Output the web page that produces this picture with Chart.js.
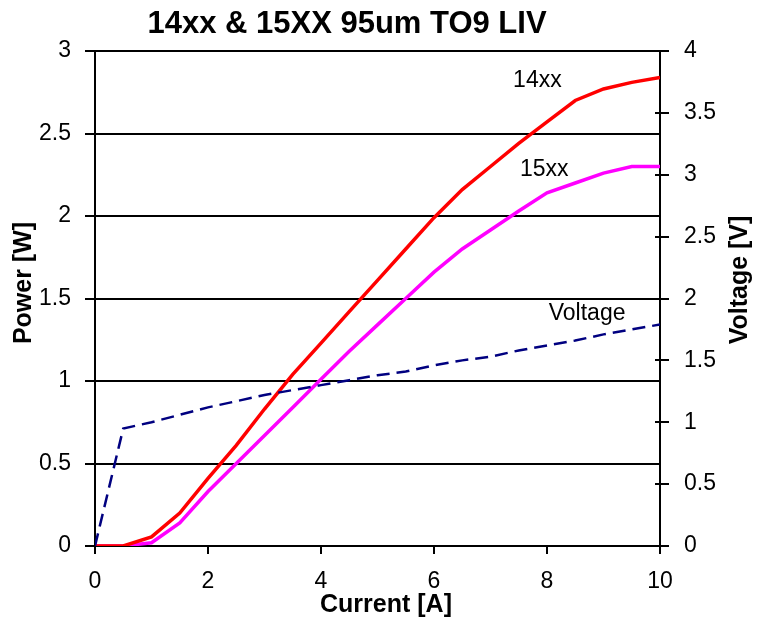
<!DOCTYPE html>
<html>
<head>
<meta charset="utf-8">
<script src="https://cdn.jsdelivr.net/npm/chart.js@4/dist/chart.umd.min.js"></script>
<style>
  html, body { margin: 0; padding: 0; background: #fff; }
  #wrap { width: 766px; height: 620px; position: relative; }
</style>
</head>
<body>
<div id="wrap"><canvas id="c"></canvas></div>
<script>
const current   = [0, 0.5, 1, 1.5, 2, 2.5, 3, 3.5, 4, 4.5, 5, 5.5, 6, 6.5, 7, 7.5, 8, 8.5, 9, 9.5, 10];
const power14xx = [0, 0, 0.055, 0.20, 0.41, 0.61, 0.83, 1.04, 1.23, 1.42, 1.61, 1.80, 1.99, 2.16, 2.30, 2.44, 2.57, 2.70, 2.77, 2.81, 2.84];
const power15xx = [0, 0, 0.02, 0.14, 0.33, 0.50, 0.67, 0.84, 1.01, 1.18, 1.34, 1.50, 1.66, 1.80, 1.915, 2.03, 2.14, 2.20, 2.26, 2.30, 2.30];
const voltage   = [0, 0.95, 1.00, 1.06, 1.12, 1.17, 1.22, 1.26, 1.30, 1.34, 1.38, 1.41, 1.46, 1.50, 1.53, 1.58, 1.62, 1.66, 1.71, 1.75, 1.79];

const chartTitle = '14xx & 15XX 95um TO9 LIV';
const xTitle = 'Current [A]';
const yLeftTitle = 'Power [W]';
const yRightTitle = 'Voltage [V]';
const seriesLabels = ['14xx', '15xx', 'Voltage'];
// label anchor positions in data units (x, left-axis value)
const labelAnchors = [[7.83, 2.82], [7.95, 2.28], [8.71, 1.41]];

const FONT = '"Liberation Sans", Arial, Helvetica, sans-serif';
const toXY = (xs, ys) => xs.map((x, i) => ({ x: x, y: ys[i] }));
const plainNum = v => String(+v.toFixed(2));

const textPlugin = {
  id: 'texts',
  afterDraw(chart) {
    const ctx = chart.ctx;
    const xs = chart.scales.x, yl = chart.scales.y, yr = chart.scales.y1;
    const ca = chart.chartArea;
    ctx.save();
    // inner half of right-axis ticks (cross ticks)
    ctx.strokeStyle = '#000';
    ctx.lineWidth = 2;
    yr.ticks.forEach(t => {
      const py = Math.round(yr.getPixelForValue(t.value));
      ctx.beginPath();
      ctx.moveTo(ca.right - 5, py);
      ctx.lineTo(ca.right, py);
      ctx.stroke();
    });
    ctx.fillStyle = '#000';
    // title
    ctx.font = 'bold 31px ' + FONT;
    ctx.textAlign = 'center';
    ctx.textBaseline = 'middle';
    ctx.fillText(chartTitle, 347, 24);
    // x title
    ctx.font = 'bold 25px ' + FONT;
    ctx.fillText(xTitle, 386, 605);
    // left y title
    ctx.save();
    ctx.translate(24, 283);
    ctx.rotate(-Math.PI / 2);
    ctx.fillText(yLeftTitle, 0, 0);
    ctx.restore();
    // right y title
    ctx.save();
    ctx.translate(740, 280);
    ctx.rotate(-Math.PI / 2);
    ctx.fillText(yRightTitle, 0, 0);
    ctx.restore();
    // series labels
    ctx.font = '23px ' + FONT;
    seriesLabels.forEach((s, i) => {
      const a = labelAnchors[i];
      ctx.fillText(s, xs.getPixelForValue(a[0]), yl.getPixelForValue(a[1]));
    });
    ctx.restore();
  }
};

new Chart(document.getElementById('c'), {
  type: 'line',
  data: {
    datasets: [
      { label: seriesLabels[2], data: toXY(current, voltage), yAxisID: 'y1',
        borderColor: '#000080', borderWidth: 2.5, borderDash: [13, 7], pointRadius: 0, tension: 0, fill: false },
      { label: seriesLabels[0], data: toXY(current, power14xx), yAxisID: 'y',
        borderColor: '#ff0000', borderWidth: 3.5, pointRadius: 0, tension: 0, fill: false },
      { label: seriesLabels[1], data: toXY(current, power15xx), yAxisID: 'y',
        borderColor: '#ff00ff', borderWidth: 3.5, pointRadius: 0, tension: 0, fill: false }
    ]
  },
  options: {
    responsive: true,
    maintainAspectRatio: false,
    animation: false,
    layout: { padding: { top: 51, left: 0, right: 0, bottom: 0 } },
    plugins: { legend: { display: false }, title: { display: false }, tooltip: { enabled: false } },
    scales: {
      x: {
        type: 'linear', min: 0, max: 10,
        ticks: { stepSize: 2, color: '#000', font: { family: FONT, size: 23 }, padding: 14, maxRotation: 0, callback: plainNum },
        grid: { drawOnChartArea: false, drawTicks: true, tickLength: 8, color: '#000', lineWidth: 2 },
        border: { display: true, color: '#000', width: 2 },
        afterFit: s => { s.height = 74; }
      },
      y: {
        position: 'left', min: 0, max: 3,
        ticks: { stepSize: 0.5, color: '#000', font: { family: FONT, size: 23 }, padding: 14, callback: plainNum },
        grid: { drawOnChartArea: true, drawTicks: true, tickLength: 10, color: '#000', lineWidth: 2 },
        border: { display: true, color: '#000', width: 2 },
        afterFit: s => { s.width = 95; }
      },
      y1: {
        position: 'right', min: 0, max: 4,
        ticks: { stepSize: 0.5, color: '#000', font: { family: FONT, size: 23 }, padding: 15, callback: plainNum },
        grid: { drawOnChartArea: false, drawTicks: true, tickLength: 9, color: '#000', lineWidth: 2 },
        border: { display: true, color: '#000', width: 2 },
        afterFit: s => { s.width = 106; }
      }
    }
  },
  plugins: [textPlugin]
});
</script>
</body>
</html>
